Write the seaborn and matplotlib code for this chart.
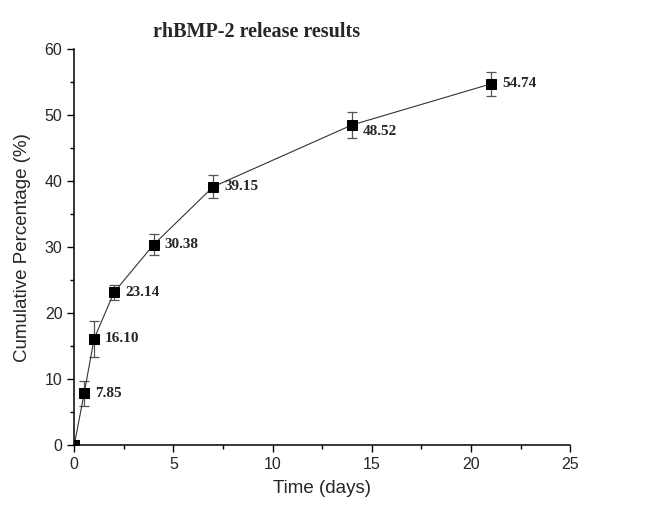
import matplotlib
matplotlib.use("Agg")
import matplotlib.pyplot as plt
import seaborn as sns
import pandas as pd
from matplotlib.ticker import MultipleLocator

# release data
days = [0, 0.5, 1, 2, 4, 7, 14, 21]
release = [0, 7.85, 16.10, 23.14, 30.38, 39.15, 48.52, 54.74]
errors = [0, 1.9, 2.75, 1.1, 1.6, 1.75, 1.95, 1.8]
labels = ["", "7.85", "16.10", "23.14", "30.38", "39.15", "48.52", "54.74"]

df = pd.DataFrame({"days": days, "release": release, "err": errors})

sns.set_style("ticks")
plt.rcParams["font.family"] = ["Liberation Sans", "DejaVu Sans"]

fig = plt.figure(figsize=(6.57, 5.07), dpi=100)
ax = fig.add_axes([0.113, 0.122, 0.755, 0.781])

ax.errorbar(df["days"], df["release"], yerr=df["err"], fmt="none",
            ecolor="#555555", elinewidth=0.9, capsize=3.5, capthick=0.9, zorder=2)
sns.lineplot(data=df, x="days", y="release", ax=ax, color="#333333",
             linewidth=0.8, marker="s", markersize=7, markerfacecolor="black",
             markeredgecolor="black", zorder=3)

# value labels next to each point
y_shift = [0, 0, 0, 0, 0, 0, -5, 0]
for x, y, lab, dy in zip(days, release, labels, y_shift):
    if lab:
        ax.annotate(lab, (x, y), xytext=(8, dy), textcoords="offset points",
                    ha="left", va="center", fontsize=11, fontweight="bold",
                    family=["Liberation Serif", "DejaVu Serif"])

ax.set_xlim(0, 25)
ax.set_ylim(0, 60)
ax.xaxis.set_major_locator(MultipleLocator(5))
ax.xaxis.set_minor_locator(MultipleLocator(2.5))
ax.yaxis.set_major_locator(MultipleLocator(10))
ax.yaxis.set_minor_locator(MultipleLocator(5))
ax.tick_params(which="major", length=5, width=1, labelsize=11.5, color="black")
ax.tick_params(which="minor", length=3, width=1, color="black")
for s in ["top", "right"]:
    ax.spines[s].set_visible(False)
for s in ["left", "bottom"]:
    ax.spines[s].set_linewidth(1.1)
    ax.spines[s].set_color("black")

ax.set_xlabel("Time (days)", fontsize=13.5, labelpad=6)
ax.set_ylabel("Cumulative Percentage (%)", fontsize=13.5, labelpad=10)

fig.text(0.39, 0.937, "rhBMP-2 release results", ha="center", va="center",
         fontsize=14.5, fontweight="bold", family=["Liberation Serif", "DejaVu Serif"])

fig.savefig("out.png", dpi=100)
